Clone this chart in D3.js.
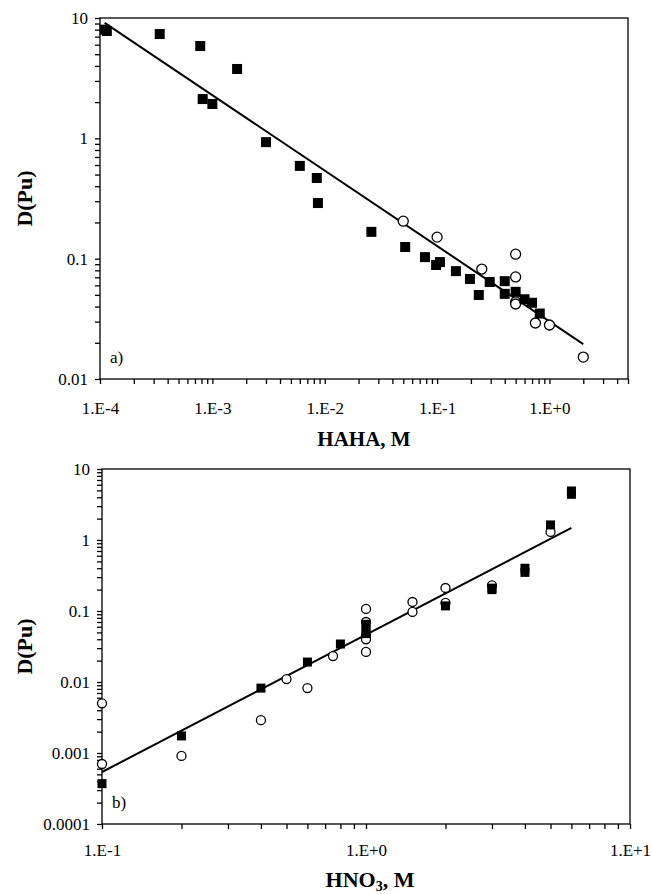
<!DOCTYPE html>
<html>
<head>
<meta charset="utf-8">
<script src="https://cdn.jsdelivr.net/npm/d3@7"></script>
<style>
  body { margin: 0; background: #fff; }
  .axis path, .axis line { stroke: #000; stroke-width: 1.3; }
  .axis text { fill: #000; }
</style>
</head>
<body>
<svg width="652" height="894"></svg>
<script>
// panel a) D(Pu) vs HAHA
var hahaSqX = [1.1e-4, 1.15e-4, 3.4e-4, 7.8e-4, 8.2e-4, 1.0e-3, 1.66e-3, 3.0e-3, 6.0e-3, 8.5e-3, 8.7e-3,
  0.026, 0.052, 0.078, 0.098, 0.106, 0.147, 0.196, 0.235, 0.294, 0.4, 0.4, 0.5, 0.6, 0.7, 0.82];
var hahaSqY = [8.0, 7.8, 7.36, 5.85, 2.12, 1.93, 3.77, 0.93, 0.59, 0.468, 0.29,
  0.167, 0.125, 0.103, 0.0886, 0.0937, 0.0788, 0.0678, 0.0499, 0.064, 0.065, 0.051, 0.053, 0.046, 0.043, 0.035];
var hahaCircX = [0.05, 0.1, 0.25, 0.5, 0.5, 0.5, 0.5, 0.75, 1.0, 2.0];
var hahaCircY = [0.205, 0.151, 0.082, 0.109, 0.0705, 0.0437, 0.042, 0.0292, 0.0281, 0.0152];
var hahaFitX = [1.1e-4, 2.0];
var hahaFitY = [9.1, 0.0195];

// panel b) D(Pu) vs HNO3
var hno3SqX = [0.1, 0.2, 0.4, 0.6, 0.8, 1.0, 1.0, 1.0, 2.0, 3.0, 3.0, 4.0, 4.0, 5.0, 6.0, 6.0];
var hno3SqY = [0.00037, 0.00174, 0.0082, 0.0191, 0.0343, 0.065, 0.055, 0.048, 0.118, 0.2, 0.21, 0.4, 0.35, 1.63, 4.9, 4.4];
var hno3CircX = [0.1, 0.1, 0.2, 0.4, 0.5, 0.6, 0.75, 1.0, 1.0, 1.0, 1.0, 1.0, 1.5, 1.5, 2.0, 2.0, 3.0, 5.0];
var hno3CircY = [0.005, 0.0007, 0.00091, 0.0029, 0.011, 0.0082, 0.0232, 0.107, 0.07, 0.045, 0.04, 0.0265,
  0.134, 0.097, 0.211, 0.13, 0.23, 1.3];
var hno3FitX = [0.1, 6.0];
var hno3FitY = [0.00054, 1.48];

var FONT = '"Liberation Serif", Tinos, "Times New Roman", "DejaVu Serif", serif';
var svg = d3.select('svg');

function logTicks(lo, hi) {
  var out = [];
  for (var e = Math.round(Math.log10(lo)); e < Math.round(Math.log10(hi)) + 1; e++) {
    for (var m = 1; m < 10; m++) {
      var v = m * Math.pow(10, e);
      if (v >= lo * 0.999 && v <= hi * 1.001) out.push(v);
    }
  }
  return out;
}
function isDecade(v) {
  var l = Math.log10(v);
  return Math.abs(l - Math.round(l)) < 1e-6;
}

function panel(opt) {
  var x = d3.scaleLog().domain(opt.xDomain).range([opt.left, opt.right]);
  var y = d3.scaleLog().domain(opt.yDomain).range([opt.bottom, opt.top]);

  var xAxis = d3.axisBottom(x)
    .tickValues(logTicks(opt.xDomain[0], opt.xDomain[1]))
    .tickSize(5)
    .tickPadding(opt.xPad)
    .tickFormat(function(d) { return isDecade(d) ? opt.xFmt(d) : ''; });
  var yAxis = d3.axisLeft(y)
    .tickValues(logTicks(opt.yDomain[0], opt.yDomain[1]))
    .tickSize(5)
    .tickPadding(7)
    .tickFormat(function(d) { return isDecade(d) ? opt.yFmt(d) : ''; });

  svg.append('rect')
    .attr('x', opt.left).attr('y', opt.top)
    .attr('width', opt.right - opt.left).attr('height', opt.bottom - opt.top)
    .attr('fill', 'none').attr('stroke', '#000').attr('stroke-width', 1.3);

  svg.append('g')
    .attr('class', 'axis')
    .attr('transform', 'translate(0,' + opt.bottom + ')')
    .call(xAxis)
    .attr('font-family', FONT).attr('font-size', 17)
    .call(function(g) { g.select('.domain').remove(); });
  svg.append('g')
    .attr('class', 'axis')
    .attr('transform', 'translate(' + opt.left + ',0)')
    .call(yAxis)
    .attr('font-family', FONT).attr('font-size', 17)
    .call(function(g) { g.select('.domain').remove(); });

  // fit line
  svg.append('path')
    .datum(d3.zip(opt.fitX, opt.fitY))
    .attr('fill', 'none').attr('stroke', '#000').attr('stroke-width', 2)
    .attr('d', d3.line().x(function(d) { return x(d[0]); }).y(function(d) { return y(d[1]); }));

  // open circles
  svg.selectAll(null)
    .data(d3.zip(opt.circX, opt.circY))
    .enter().append('circle')
    .attr('cx', function(d) { return x(d[0]); })
    .attr('cy', function(d) { return y(d[1]); })
    .attr('r', opt.r)
    .attr('fill', '#fff').attr('stroke', '#000').attr('stroke-width', 1.3);

  // filled squares
  svg.selectAll(null)
    .data(d3.zip(opt.sqX, opt.sqY))
    .enter().append('rect')
    .attr('x', function(d) { return x(d[0]) - opt.s / 2; })
    .attr('y', function(d) { return y(d[1]) - opt.s / 2; })
    .attr('width', opt.s).attr('height', opt.s)
    .attr('fill', '#000');

  // y title
  svg.append('text')
    .attr('font-family', FONT).attr('font-size', 22).attr('font-weight', 'bold')
    .attr('transform', 'translate(32,' + ((opt.top + opt.bottom) / 2) + ') rotate(-90)')
    .attr('text-anchor', 'middle')
    .text('D(Pu)');

  // panel tag
  svg.append('text')
    .attr('font-family', FONT).attr('font-size', 17)
    .attr('x', opt.left + 10).attr('y', opt.bottom - 16)
    .text(opt.tag);

  return { x: x, y: y };
}

var expFmt = function(d) {
  var e = Math.round(Math.log10(d));
  return '1.E' + (e < 0 ? '-' : '+') + Math.abs(e);
};
var numFmt = function(d) { return String(+d.toPrecision(1)); };

panel({
  left: 100, right: 628, top: 18, bottom: 379,
  xDomain: [1e-4, 5], yDomain: [0.01, 10],
  xFmt: expFmt, yFmt: numFmt,
  xPad: 18,
  sqX: hahaSqX, sqY: hahaSqY, circX: hahaCircX, circY: hahaCircY,
  fitX: hahaFitX, fitY: hahaFitY,
  r: 5, s: 10, tag: 'a)'
});

svg.append('text')
  .attr('font-family', FONT).attr('font-size', 21).attr('font-weight', 'bold')
  .attr('x', 364).attr('y', 446)
  .attr('text-anchor', 'middle')
  .text('HAHA, M');

panel({
  left: 102, right: 630, top: 469, bottom: 824,
  xDomain: [0.1, 10], yDomain: [0.0001, 10],
  xFmt: expFmt, yFmt: numFmt,
  xPad: 15,
  sqX: hno3SqX, sqY: hno3SqY, circX: hno3CircX, circY: hno3CircY,
  fitX: hno3FitX, fitY: hno3FitY,
  r: 4.5, s: 9, tag: 'b)'
});

var t = svg.append('text')
  .attr('font-family', FONT).attr('font-size', 22).attr('font-weight', 'bold')
  .attr('x', 370).attr('y', 887)
  .attr('text-anchor', 'middle');
t.append('tspan').text('HNO');
t.append('tspan').attr('dy', 4).attr('font-size', 14).text('3');
t.append('tspan').attr('dy', -4).text(', M');
</script>
</body>
</html>
